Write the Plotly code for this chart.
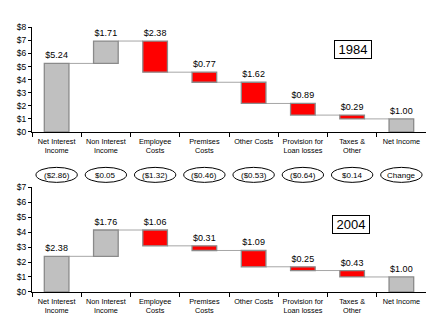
import plotly.graph_objects as go

# Waterfall of bank earnings per $1 of net income
categories = ["Net Interest<br>Income", "Non Interest<br>Income", "Employee<br>Costs",
              "Premises<br>Costs", "Other Costs", "Provision for<br>Loan losses",
              "Taxes &<br>Other", "Net Income"]
kinds = ["income", "income", "cost", "cost", "cost", "cost", "cost", "total"]
values_1984 = [5.24, 1.71, 2.38, 0.77, 1.62, 0.89, 0.29, 1.00]
values_2004 = [2.38, 1.76, 1.06, 0.31, 1.09, 0.25, 0.43, 1.00]
ticks_1984 = [0, 1, 2, 3, 4, 5, 6, 7, 8]
ticks_2004 = [0, 1, 2, 3, 4, 5, 6, 7]

FONT = "Liberation Sans, Arial, sans-serif"
W, H = 444, 326
X_LEFT, X_RIGHT = 32, 426


def py(p):
    return 1 - p / H


def waterfall(values):
    bases, levels = [], []
    running = 0.0
    for v, k in zip(values, kinds):
        if k == "income":
            bases.append(running)
            running += v
        elif k == "cost":
            running -= v
            bases.append(running)
        else:
            bases.append(0.0)
            running = v
        levels.append(running)
    return bases, levels


def money(v):
    return f"(${abs(v):.2f})" if v < -1e-9 else f"${v:.2f}"


fig = go.Figure()
shapes, annotations = [], []

panels = [
    ("1984", values_1984, ticks_1984, "x", "y", (131, 23), (353, 45.5)),
    ("2004", values_2004, ticks_2004, "x2", "y2", (296, 188), (351, 226)),
]

for year, values, ticks, xa, ya, (p0, p1), (bx, by) in panels:
    bases, levels = waterfall(values)
    fill = ["#ff0000" if k == "cost" else "#c0c0c0" for k in kinds]
    edge = ["#8c8c8c" if k == "cost" else "#8a8a8a" for k in kinds]
    fig.add_trace(go.Bar(
        x=categories, y=values, base=bases, width=0.5,
        marker=dict(color=fill, line=dict(color=edge, width=1.3)),
        text=[f"${v:.2f}" for v in values], textposition="outside",
        constraintext="none", cliponaxis=False,
        textfont=dict(family=FONT, size=9, color="black"),
        xaxis=xa, yaxis=ya, showlegend=False, hoverinfo="skip",
    ))
    # connector lines between consecutive bars
    for i in range(len(values) - 1):
        shapes.append(dict(type="line", xref=xa, yref=ya,
                           x0=i + 0.25, x1=i + 0.75, y0=levels[i], y1=levels[i],
                           line=dict(color="#a6a6a6", width=1), layer="below"))
    annotations.append(dict(text=year, xref="paper", yref="paper", x=bx / W, y=py(by),
                            xanchor="center", yanchor="middle",
                            showarrow=False, width=34, height=15,
                            bordercolor="black", borderwidth=1, bgcolor="white",
                            font=dict(family=FONT, size=13, color="black")))

# change between the two years, shown in ovals
changes = [money(b - a) for a, b in zip(values_1984, values_2004)]
changes[-1] = "Change"
for i, txt in enumerate(changes):
    shapes.append(dict(type="circle", xref="x", yref="paper",
                       x0=i - 0.42, x1=i + 0.42, y0=py(183), y1=py(167.5),
                       line=dict(color="black", width=1)))
    annotations.append(dict(text=txt, xref="x", yref="paper", x=i, y=py(175.5),
                            xanchor="center", yanchor="middle",
                            showarrow=False, font=dict(family=FONT, size=8, color="black")))

xcommon = dict(type="category", showline=True, linecolor="black", linewidth=1,
               ticks="outside", tickson="boundaries", ticklen=4, tickcolor="black",
               showgrid=False, zeroline=False, range=[-0.5, 7.5], tickangle=0,
               ticklabelstandoff=2,
               tickfont=dict(family=FONT, size=7.3, color="black"),
               domain=[X_LEFT / W, X_RIGHT / W])


def yaxis(ticks, p0, p1, anchor):
    return dict(range=[ticks[0], ticks[-1]], tickvals=ticks, ticktext=[f"${t}" for t in ticks],
                showline=True, linecolor="black", linewidth=1, ticks="outside", ticklen=3,
                tickcolor="black", showgrid=False, zeroline=False, anchor=anchor,
                tickfont=dict(family=FONT, size=8.5, color="black"),
                domain=[py(p0), py(p1)])


fig.update_layout(
    width=W, height=H, margin=dict(l=0, r=0, t=0, b=0),
    paper_bgcolor="white", plot_bgcolor="white",
    bargap=0.5,
    xaxis=dict(xcommon, anchor="y"),
    xaxis2=dict(xcommon, anchor="y2"),
    yaxis=yaxis(ticks_1984, 131, 23, "x"),
    yaxis2=yaxis(ticks_2004, 296, 188, "x2"),
    shapes=shapes, annotations=annotations,
)

fig.write_html("out.html")
